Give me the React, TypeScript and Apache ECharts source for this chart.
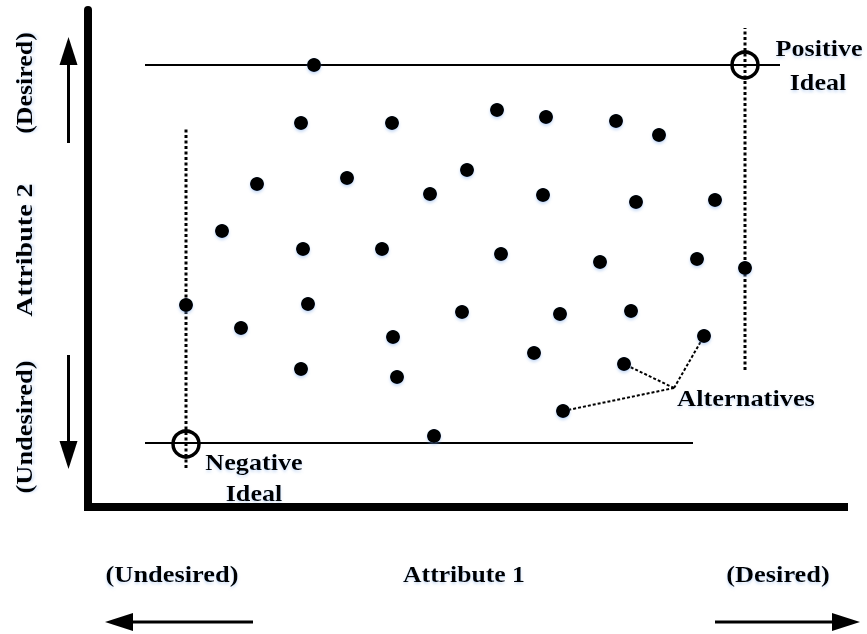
import React, { useEffect, useRef } from "react";
import * as echarts from "echarts";

// Data coordinates: Attribute 1 (x) and Attribute 2 (y), conceptual units
const alternatives: [number, number][] = [
  [226, 442], [213, 384], [304, 384], [409, 397], [458, 390], [528, 386], [571, 372],
  [169, 323], [259, 329], [342, 313], [379, 337], [455, 312], [548, 305], [627, 307],
  [134, 276], [215, 258], [294, 258], [413, 253], [512, 245], [609, 248], [657, 239],
  [98, 202], [220, 203], [153, 179], [374, 195], [472, 193], [543, 196], [616, 171],
  [305, 170], [213, 138], [309, 130], [446, 154], [536, 143], [346, 71], [475, 96],
];
const positiveIdeal: [number, number] = [657, 442];
const negativeIdeal: [number, number] = [98, 63];
const topLine: [number, number][] = [[57, 442], [692, 442]];
const bottomLine: [number, number][] = [[57, 64], [605, 64]];
const leftDotted: [number, number][] = [[98, 39], [98, 380]];
const rightDotted: [number, number][] = [[657, 137], [657, 479]];
const leaderHub: [number, number] = [586, 119];
const leaderTargets: [number, number][] = [[536, 143], [616, 171], [475, 96]];
const xRange = [0, 756];
const yRange = [0, 497];

const FONT = "Liberation Serif";
const shadow = {
  textShadowColor: "rgba(120,165,230,0.35)",
  textShadowBlur: 3,
  textShadowOffsetY: 2,
};

function label(text: string, x: number, y: number, sx = 1.08, rot = 0) {
  return {
    type: "text",
    x,
    y,
    rotation: rot,
    scaleX: sx,
    style: {
      text,
      fontFamily: FONT,
      fontWeight: "bold",
      fontSize: 24,
      fill: "#000",
      align: "center",
      verticalAlign: "middle",
      ...shadow,
    },
  };
}

function arrow(x1: number, y1: number, x2: number, y2: number) {
  const dx = x2 - x1;
  const dy = y2 - y1;
  const len = Math.sqrt(dx * dx + dy * dy);
  const ux = dx / len;
  const uy = dy / len;
  const bx = x2 - ux * 28;
  const by = y2 - uy * 28;
  return [
    {
      type: "line",
      shape: { x1, y1, x2: bx, y2: by },
      style: { stroke: "#000", lineWidth: 3 },
    },
    {
      type: "polygon",
      shape: {
        points: [
          [x2, y2],
          [bx - uy * 9, by + ux * 9],
          [bx + uy * 9, by - ux * 9],
        ],
      },
      style: { fill: "#000" },
    },
  ];
}

export default function App() {
  const ref = useRef<HTMLDivElement>(null);
  useEffect(() => {
    if (!ref.current) return;
    const chart = echarts.init(ref.current, null, { renderer: "svg" });
    const lineSeries = (data: [number, number][], width: number, dash: any, z = 2) => ({
      type: "line",
      data,
      showSymbol: false,
      symbol: "none",
      silent: true,
      z,
      lineStyle: { color: "#000", width, type: dash, opacity: 1 },
    });
    chart.setOption({
      animation: false,
      backgroundColor: "#fff",
      grid: { left: 88, top: 10, width: 756, height: 497 },
      xAxis: {
        type: "value",
        min: xRange[0],
        max: xRange[1],
        splitLine: { show: false },
        axisTick: { show: false },
        axisLabel: { show: false },
        axisLine: { show: true, lineStyle: { color: "#000", width: 8, cap: "square" } },
      },
      yAxis: {
        type: "value",
        min: yRange[0],
        max: yRange[1],
        splitLine: { show: false },
        axisTick: { show: false },
        axisLabel: { show: false },
        axisLine: { show: true, lineStyle: { color: "#000", width: 8 } },
      },
      series: [
        lineSeries(topLine, 2, "solid"),
        lineSeries(bottomLine, 2, "solid"),
        lineSeries(leftDotted, 3, [3, 2.5]),
        lineSeries(rightDotted, 3, [3, 2.5]),
        ...leaderTargets.map((t) => lineSeries([leaderHub, t], 2, [3, 2])),
        {
          type: "scatter",
          name: "Alternatives",
          data: alternatives,
          symbol: "circle",
          symbolSize: 14,
          z: 4,
          itemStyle: {
            color: "#000",
            opacity: 1,
            shadowColor: "rgba(120,165,230,0.4)",
            shadowBlur: 3,
            shadowOffsetY: 2,
          },
        },
        {
          type: "scatter",
          name: "Ideals",
          data: [positiveIdeal, negativeIdeal],
          symbol: "circle",
          symbolSize: 26,
          z: 5,
          itemStyle: {
            color: "rgba(0,0,0,0)",
            borderColor: "#000",
            borderWidth: 3.5,
            opacity: 1,
          },
        },
      ],
      graphic: [
        ...arrow(68.5, 143, 68.5, 37),
        ...arrow(68.5, 355, 68.5, 469),
        ...arrow(253, 622, 105, 622),
        ...arrow(715, 622, 860, 622),
        label("(Desired)", 24, 83, 1.08, Math.PI / 2),
        label("Attribute 2", 24, 250, 1.17, Math.PI / 2),
        label("(Undesired)", 24, 427, 1.1, Math.PI / 2),
        label("(Undesired)", 172, 574, 1.1),
        label("Attribute 1", 464, 574, 1.07),
        label("(Desired)", 778, 574, 1.1),
        label("Positive", 819, 48, 1.09),
        label("Ideal", 818, 82, 1.09),
        label("Negative", 254, 462, 1.09),
        label("Ideal", 254, 493, 1.09),
        label("Alternatives", 746, 398, 1.1),
      ],
    });
    return () => chart.dispose();
  }, []);
  return (
    <div
      ref={ref}
      style={{ position: "fixed", left: 0, top: 0, width: 867, height: 634, background: "#fff" }}
    />
  );
}
